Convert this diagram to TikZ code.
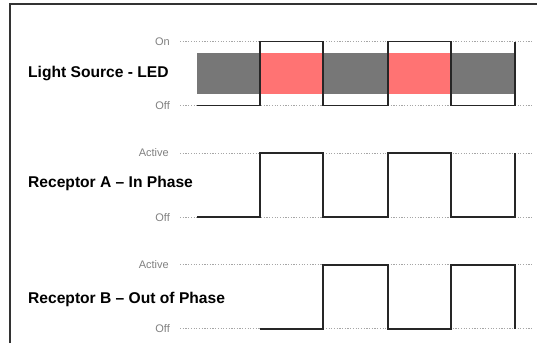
\documentclass[tikz,border=0pt]{standalone}
\usepackage{fontspec}
\setmainfont{Liberation Sans}
\definecolor{bandgray}{HTML}{777777}
\definecolor{bandred}{HTML}{FF7373}
\definecolor{wavecol}{HTML}{262626}
\begin{document}
\begin{tikzpicture}[x=1pt,y=-1pt,
  frameline/.style={line width=2pt, draw=black!80},
  levelline/.style={draw=black!35, line width=1pt, dash pattern=on 1.2pt off 1.5pt},
  wave/.style={draw=wavecol, line width=1.8pt, line join=miter},
  rowlabel/.style={font=\bfseries\fontsize{15.6}{18}\selectfont, anchor=west, inner sep=0pt},
  levellabel/.style={font=\fontsize{11}{13}\selectfont, text=black!50, anchor=east, inner sep=0pt}]
\useasboundingbox (0,0) rectangle (537,343);

% outer frame (top and left edges)
\draw[frameline] (10,343) -- (10,3.5) -- (537,3.5);

% switching instants
\def\tA{197}\def\tB{260}\def\tC{323}\def\tD{388}\def\tE{451}\def\tF{515}

% ---------- Light source ----------
\fill[bandgray] (\tA,52.7) rectangle (\tB,94);
\fill[bandred]  (\tB,52.7) rectangle (\tC,94);
\fill[bandgray] (\tC,52.7) rectangle (\tD,94);
\fill[bandred]  (\tD,52.7) rectangle (\tE,94);
\fill[bandgray] (\tE,52.7) rectangle (\tF,94);

\node[rowlabel]   (led)    at (28,73)  {Light Source - LED};
\node[levellabel] (ledon)  at (170,42) {On};
\node[levellabel] (ledoff) at (170,106) {Off};
\draw[levelline] (180,41.5) -- (533,41.5);
\draw[levelline] (180,105.5) -- (533,105.5);
\draw[wave] (\tA,105.5) -- (\tB,105.5) -- (\tB,41.5) -- (\tC,41.5) -- (\tC,105.5)
  -- (\tD,105.5) -- (\tD,41.5) -- (\tE,41.5) -- (\tE,105.5) -- (\tF,105.5) -- (\tF,41.5);

% ---------- Receptor A ----------
\node[rowlabel]   (reca)    at (28,183)  {Receptor A – In Phase};
\node[levellabel] (recaon)  at (169,153) {Active};
\node[levellabel] (recaoff) at (170,217.5) {Off};
\draw[levelline] (180,153) -- (533,153);
\draw[levelline] (180,217) -- (533,217);
\draw[wave] (\tA,217) -- (\tB,217) -- (\tB,153) -- (\tC,153) -- (\tC,217)
  -- (\tD,217) -- (\tD,153) -- (\tE,153) -- (\tE,217) -- (\tF,217) -- (\tF,153);

% ---------- Receptor B ----------
\node[rowlabel]   (recb)    at (28,299.5) {Receptor B – Out of Phase};
\node[levellabel] (recbon)  at (169,265) {Active};
\node[levellabel] (recboff) at (170,329) {Off};
\draw[levelline] (180,264.7) -- (533,264.7);
\draw[levelline] (180,328.7) -- (533,328.7);
\draw[wave] (\tB,328.7) -- (\tC,328.7) -- (\tC,264.7) -- (\tD,264.7) -- (\tD,328.7)
  -- (\tE,328.7) -- (\tE,264.7) -- (\tF,264.7) -- (\tF,328.7);
\end{tikzpicture}
\end{document}
